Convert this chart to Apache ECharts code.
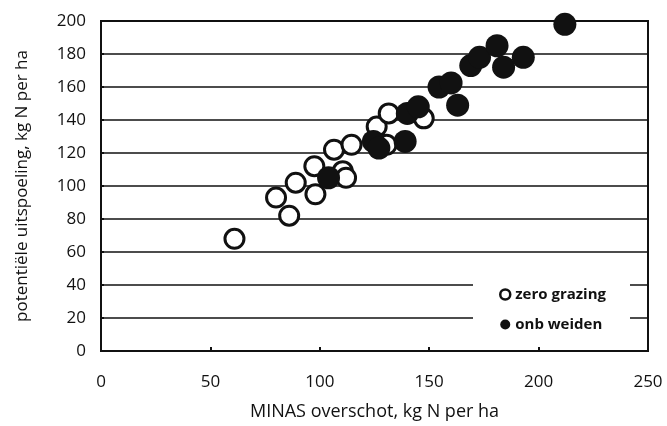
<!DOCTYPE html>
<html>
<head>
<meta charset="utf-8">
<script src="https://cdn.jsdelivr.net/npm/echarts@6/dist/echarts.min.js"></script>
<style>
  html, body { margin: 0; background: #fff; }
  #chart { width: 667px; height: 426px; }
</style>
</head>
<body>
<div id="chart"></div>
<script>
// tick labels
var xTicks = [0, 50, 100, 150, 200, 250];
var yTicks = [0, 20, 40, 60, 80, 100, 120, 140, 160, 180, 200];

// zero grazing: [MINAS overschot, potentiele uitspoeling]
var zeroGrazing = [
  [61, 68], [80, 93], [86, 82], [89, 102], [97.5, 112], [98, 95],
  [106.5, 122], [110.5, 109], [112, 105], [114.5, 125], [126, 136],
  [130.5, 125], [131.5, 144], [147.5, 141]
];

// onbeperkt weiden
var onbWeiden = [
  [104, 105], [124.5, 127], [127, 123], [139, 127], [140, 144], [145, 148],
  [154.5, 160], [160, 162.5], [163, 149], [169, 173], [173, 178],
  [181, 185], [184, 172], [193, 178], [212, 198]
];

var ink = '#111';
var fontFam = '"Open Sans", "Liberation Sans", sans-serif';

var option = {
  backgroundColor: '#fff',
  animation: false,
  grid: {
    left: 101,
    right: 19,
    top: 21,
    bottom: 75,
    show: true,
    borderColor: ink,
    borderWidth: 2,
    backgroundColor: 'rgba(0,0,0,0)'
  },
  legend: {
    orient: 'vertical',
    left: 473,
    top: 268,
    padding: [19, 24, 12, 26],
    backgroundColor: '#fff',
    itemWidth: 10,
    itemHeight: 10,
    itemGap: 15,
    textStyle: { color: ink, fontSize: 15, fontWeight: 'bold', fontFamily: fontFam },
    data: [
      { name: 'zero grazing', icon: 'circle', itemStyle: { color: '#fff', borderColor: ink, borderWidth: 2.5 } },
      { name: 'onb weiden', icon: 'circle' }
    ]
  },
  xAxis: {
    type: 'value',
    min: xTicks[0],
    max: xTicks[xTicks.length - 1],
    interval: xTicks[1] - xTicks[0],
    name: 'MINAS overschot, kg N per ha',
    nameLocation: 'middle',
    nameGap: 52,
    nameTextStyle: { color: ink, fontSize: 18, fontFamily: fontFam },
    axisLine: { show: true, lineStyle: { color: ink, width: 2 } },
    axisTick: { show: true, inside: true, length: 4, lineStyle: { color: ink, width: 2 } },
    axisLabel: { color: ink, fontSize: 17, fontFamily: fontFam, margin: 23 },
    splitLine: { show: false }
  },
  yAxis: {
    type: 'value',
    min: yTicks[0],
    max: yTicks[yTicks.length - 1],
    interval: yTicks[1] - yTicks[0],
    name: 'potentiële uitspoeling, kg N per ha',
    nameLocation: 'middle',
    nameGap: 70,
    nameTextStyle: { color: ink, fontSize: 17, fontFamily: fontFam },
    axisLine: { show: true, lineStyle: { color: ink, width: 2 } },
    axisTick: { show: true, inside: true, length: 3, lineStyle: { color: ink, width: 2 } },
    axisLabel: { color: ink, fontSize: 17, fontFamily: fontFam, margin: 15 },
    splitLine: { show: true, lineStyle: { color: ink, width: 1.6 } }
  },
  series: [
    {
      name: 'zero grazing',
      type: 'scatter',
      clip: false,
      symbol: 'circle',
      symbolSize: 19,
      itemStyle: { color: '#fff', borderColor: ink, borderWidth: 3, opacity: 1 },
      data: zeroGrazing
    },
    {
      name: 'onb weiden',
      type: 'scatter',
      clip: false,
      symbol: 'circle',
      symbolSize: 23,
      itemStyle: { color: ink, opacity: 1 },
      data: onbWeiden
    }
  ]
};

var chart = echarts.init(document.getElementById('chart'), null, { renderer: 'canvas' });
chart.setOption(option);
</script>
</body>
</html>
